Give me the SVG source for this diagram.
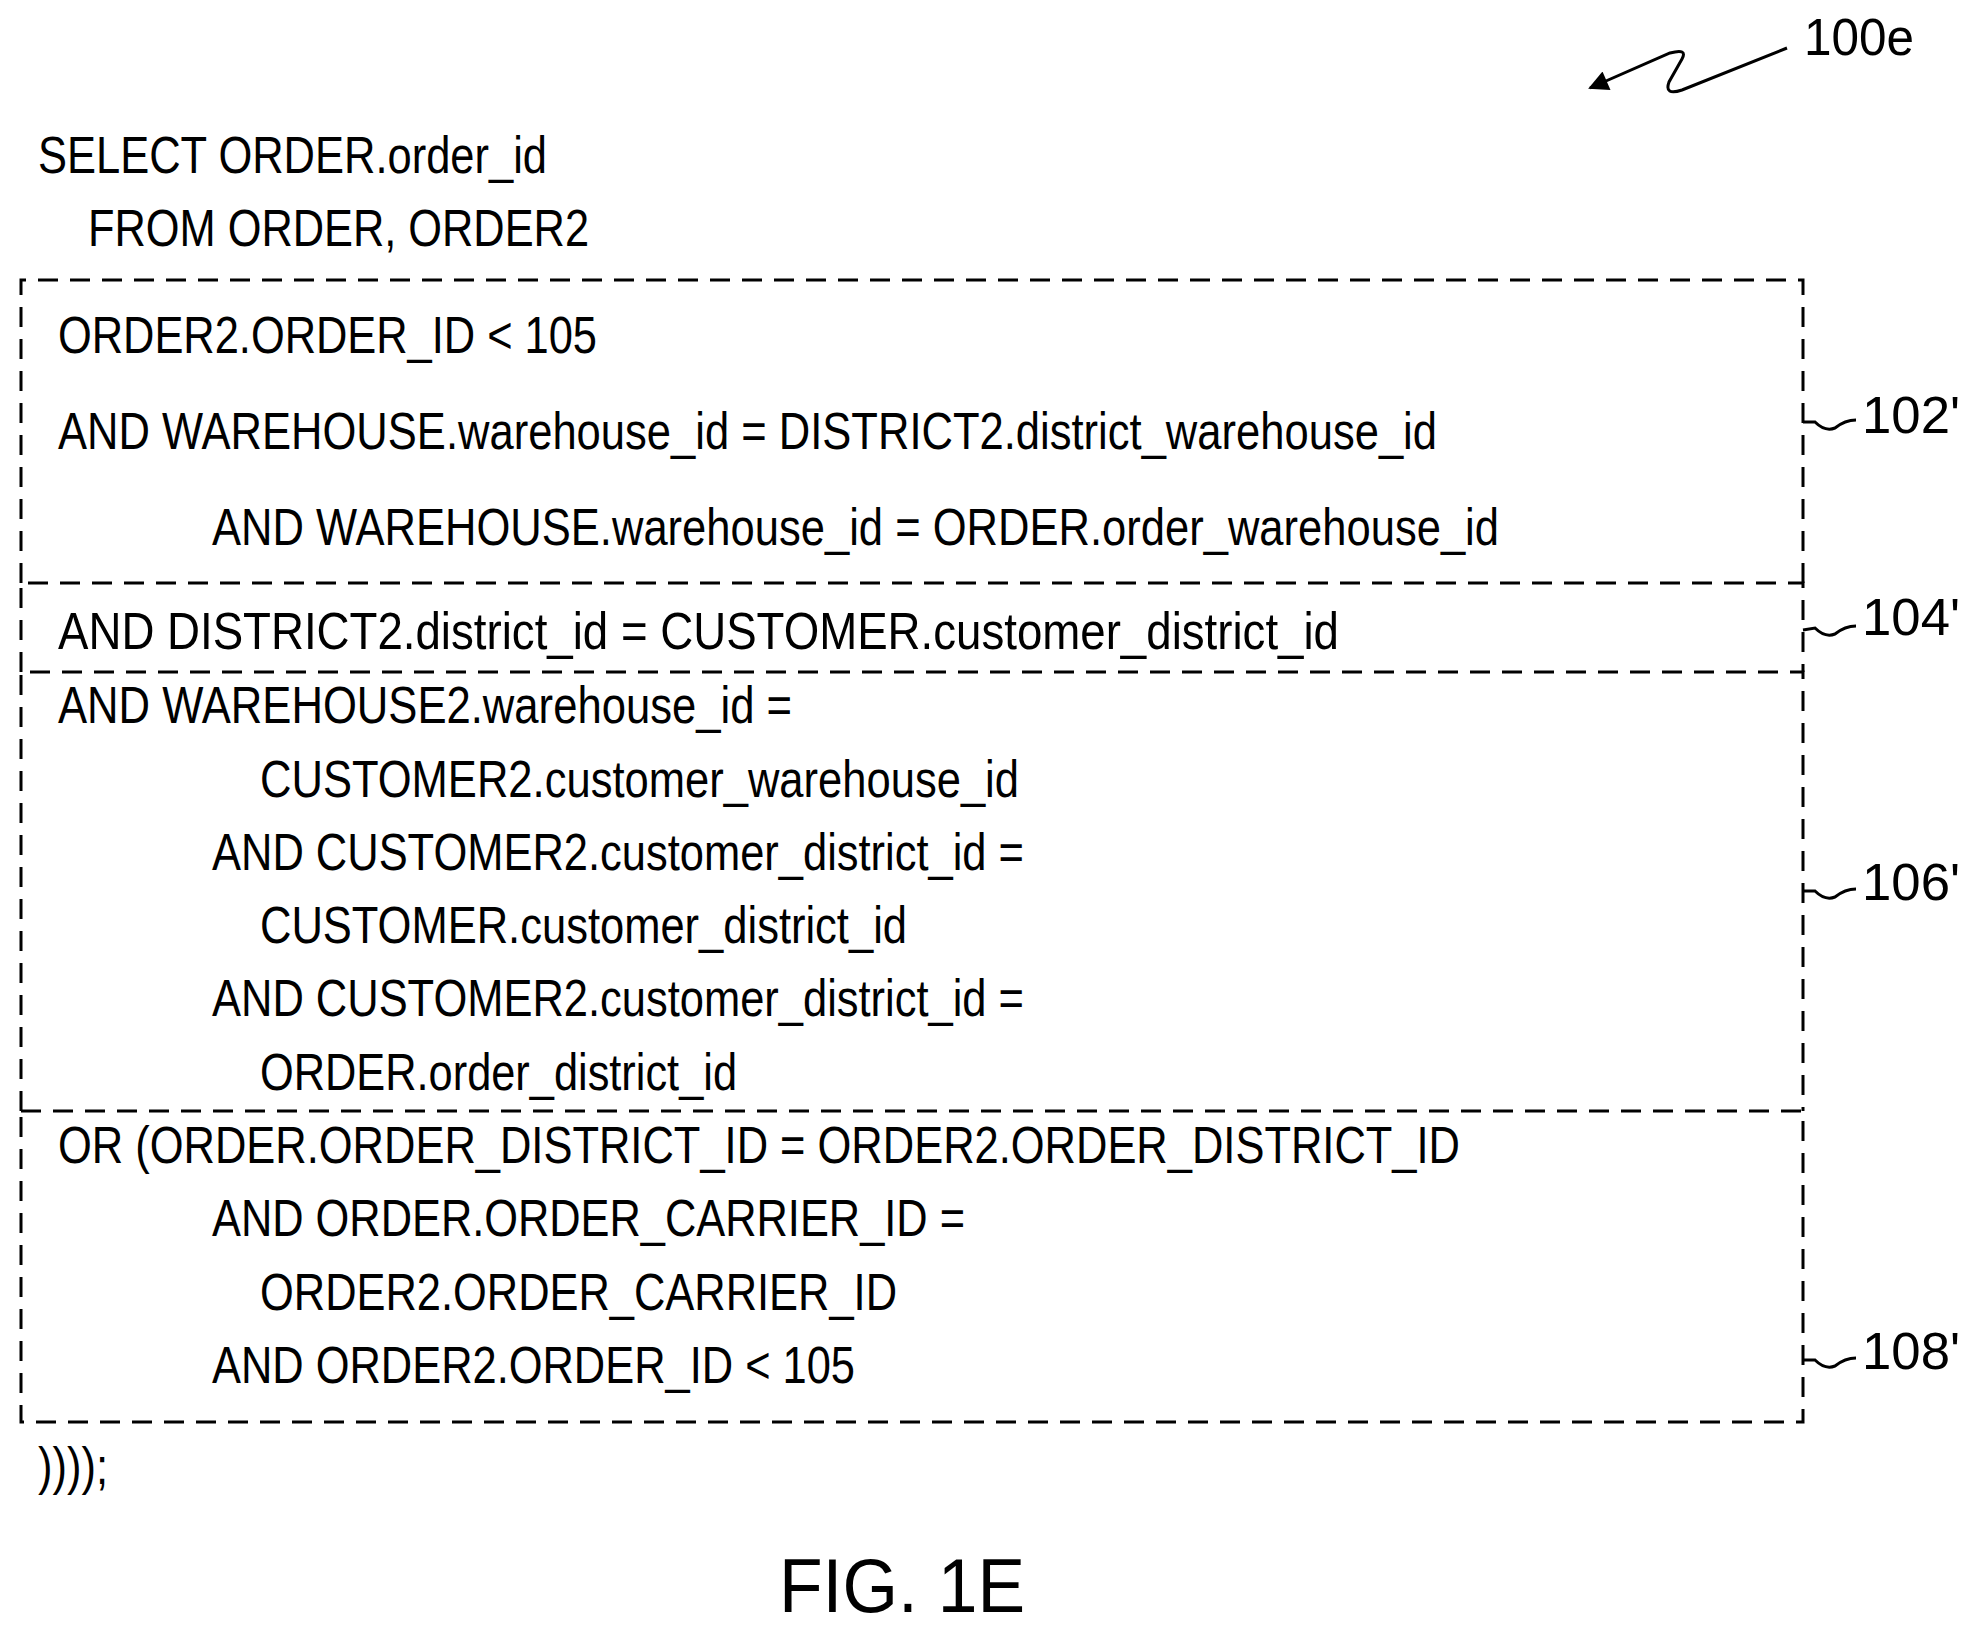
<svg xmlns="http://www.w3.org/2000/svg" width="1971" height="1632" viewBox="0 0 1971 1632">
<style>
text{font-family:"Liberation Sans",Arial,sans-serif;font-size:52px;fill:#000}
.box{fill:none;stroke:#000;stroke-width:3;stroke-dasharray:20 12}
.ln{fill:none;stroke:#000;stroke-width:3}
</style>
<defs>
<marker id="ah2" viewBox="0 0 10 10" refX="9" refY="5" markerWidth="44" markerHeight="20" markerUnits="userSpaceOnUse" orient="auto"><path d="M0,0 L10,5 L0,10 z"/></marker></defs>
<g id="ref100e"><text x="1804" y="55" textLength="110" lengthAdjust="spacingAndGlyphs">100e</text></g>
<g id="connectors">
<path class="ln" d="M1787,48 L1682,90 Q1664,96 1669,82 L1682,59 Q1688,48 1670,53 L1590,88" marker-end="url(#ah2)"/>
<path class="ln" d="M1803,422 L1815,422 Q1825,432 1835,428 Q1845,420 1856,420"/>
<path class="ln" d="M1803,630 L1815,628 Q1825,638 1835,634 Q1845,626 1856,626"/>
<path class="ln" d="M1803,891 L1815,891 Q1825,901 1835,897 Q1845,889 1856,889"/>
<path class="ln" d="M1803,1360 L1815,1360 Q1825,1370 1835,1366 Q1845,1358 1856,1358"/>
</g>
<g id="head">
<text x="38" y="173" textLength="509" lengthAdjust="spacingAndGlyphs">SELECT ORDER.order_id</text>
<text x="88" y="246" textLength="501" lengthAdjust="spacingAndGlyphs">FROM ORDER, ORDER2</text>
</g>
<g id="n102">
<path class="box" d="M21,583 L21,280 L1803,280 L1803,583"/>
<text x="58" y="353" textLength="539" lengthAdjust="spacingAndGlyphs">ORDER2.ORDER_ID &lt; 105</text>
<text x="58" y="449" textLength="1379" lengthAdjust="spacingAndGlyphs">AND WAREHOUSE.warehouse_id = DISTRICT2.district_warehouse_id</text>
<text x="212" y="545" textLength="1287" lengthAdjust="spacingAndGlyphs">AND WAREHOUSE.warehouse_id = ORDER.order_warehouse_id</text>
<text x="1862" y="433" textLength="98" lengthAdjust="spacingAndGlyphs">102'</text>
</g>
<g id="n104">
<path class="box" d="M21,672 L21,583 L1803,583 L1803,672"/>
<text x="58" y="649" textLength="1281" lengthAdjust="spacingAndGlyphs">AND DISTRICT2.district_id = CUSTOMER.customer_district_id</text>
<text x="1862" y="635" textLength="98" lengthAdjust="spacingAndGlyphs">104'</text>
</g>
<g id="n106">
<path class="box" d="M21,1111 L21,672 L1803,672 L1803,1111"/>
<text x="58" y="723" textLength="734" lengthAdjust="spacingAndGlyphs">AND WAREHOUSE2.warehouse_id =</text>
<text x="260" y="797" textLength="759" lengthAdjust="spacingAndGlyphs">CUSTOMER2.customer_warehouse_id</text>
<text x="212" y="870" textLength="812" lengthAdjust="spacingAndGlyphs">AND CUSTOMER2.customer_district_id =</text>
<text x="260" y="943" textLength="647" lengthAdjust="spacingAndGlyphs">CUSTOMER.customer_district_id</text>
<text x="212" y="1016" textLength="812" lengthAdjust="spacingAndGlyphs">AND CUSTOMER2.customer_district_id =</text>
<text x="260" y="1090" textLength="477" lengthAdjust="spacingAndGlyphs">ORDER.order_district_id</text>
<text x="1862" y="900" textLength="98" lengthAdjust="spacingAndGlyphs">106'</text>
</g>
<g id="n108">
<path class="box" d="M21,1111 L1803,1111 L1803,1422 L21,1422 Z"/>
<text x="58" y="1163" textLength="1402" lengthAdjust="spacingAndGlyphs">OR (ORDER.ORDER_DISTRICT_ID = ORDER2.ORDER_DISTRICT_ID</text>
<text x="212" y="1236" textLength="753" lengthAdjust="spacingAndGlyphs">AND ORDER.ORDER_CARRIER_ID =</text>
<text x="260" y="1310" textLength="637" lengthAdjust="spacingAndGlyphs">ORDER2.ORDER_CARRIER_ID</text>
<text x="212" y="1383" textLength="643" lengthAdjust="spacingAndGlyphs">AND ORDER2.ORDER_ID &lt; 105</text>
<text x="1862" y="1369" textLength="98" lengthAdjust="spacingAndGlyphs">108'</text>
</g>
<g id="tail">
<text x="38" y="1484" textLength="70" lengthAdjust="spacingAndGlyphs">))));</text>
<text x="779" y="1612" style="font-size:76px" textLength="246" lengthAdjust="spacingAndGlyphs">FIG. 1E</text>
</g>
</svg>
